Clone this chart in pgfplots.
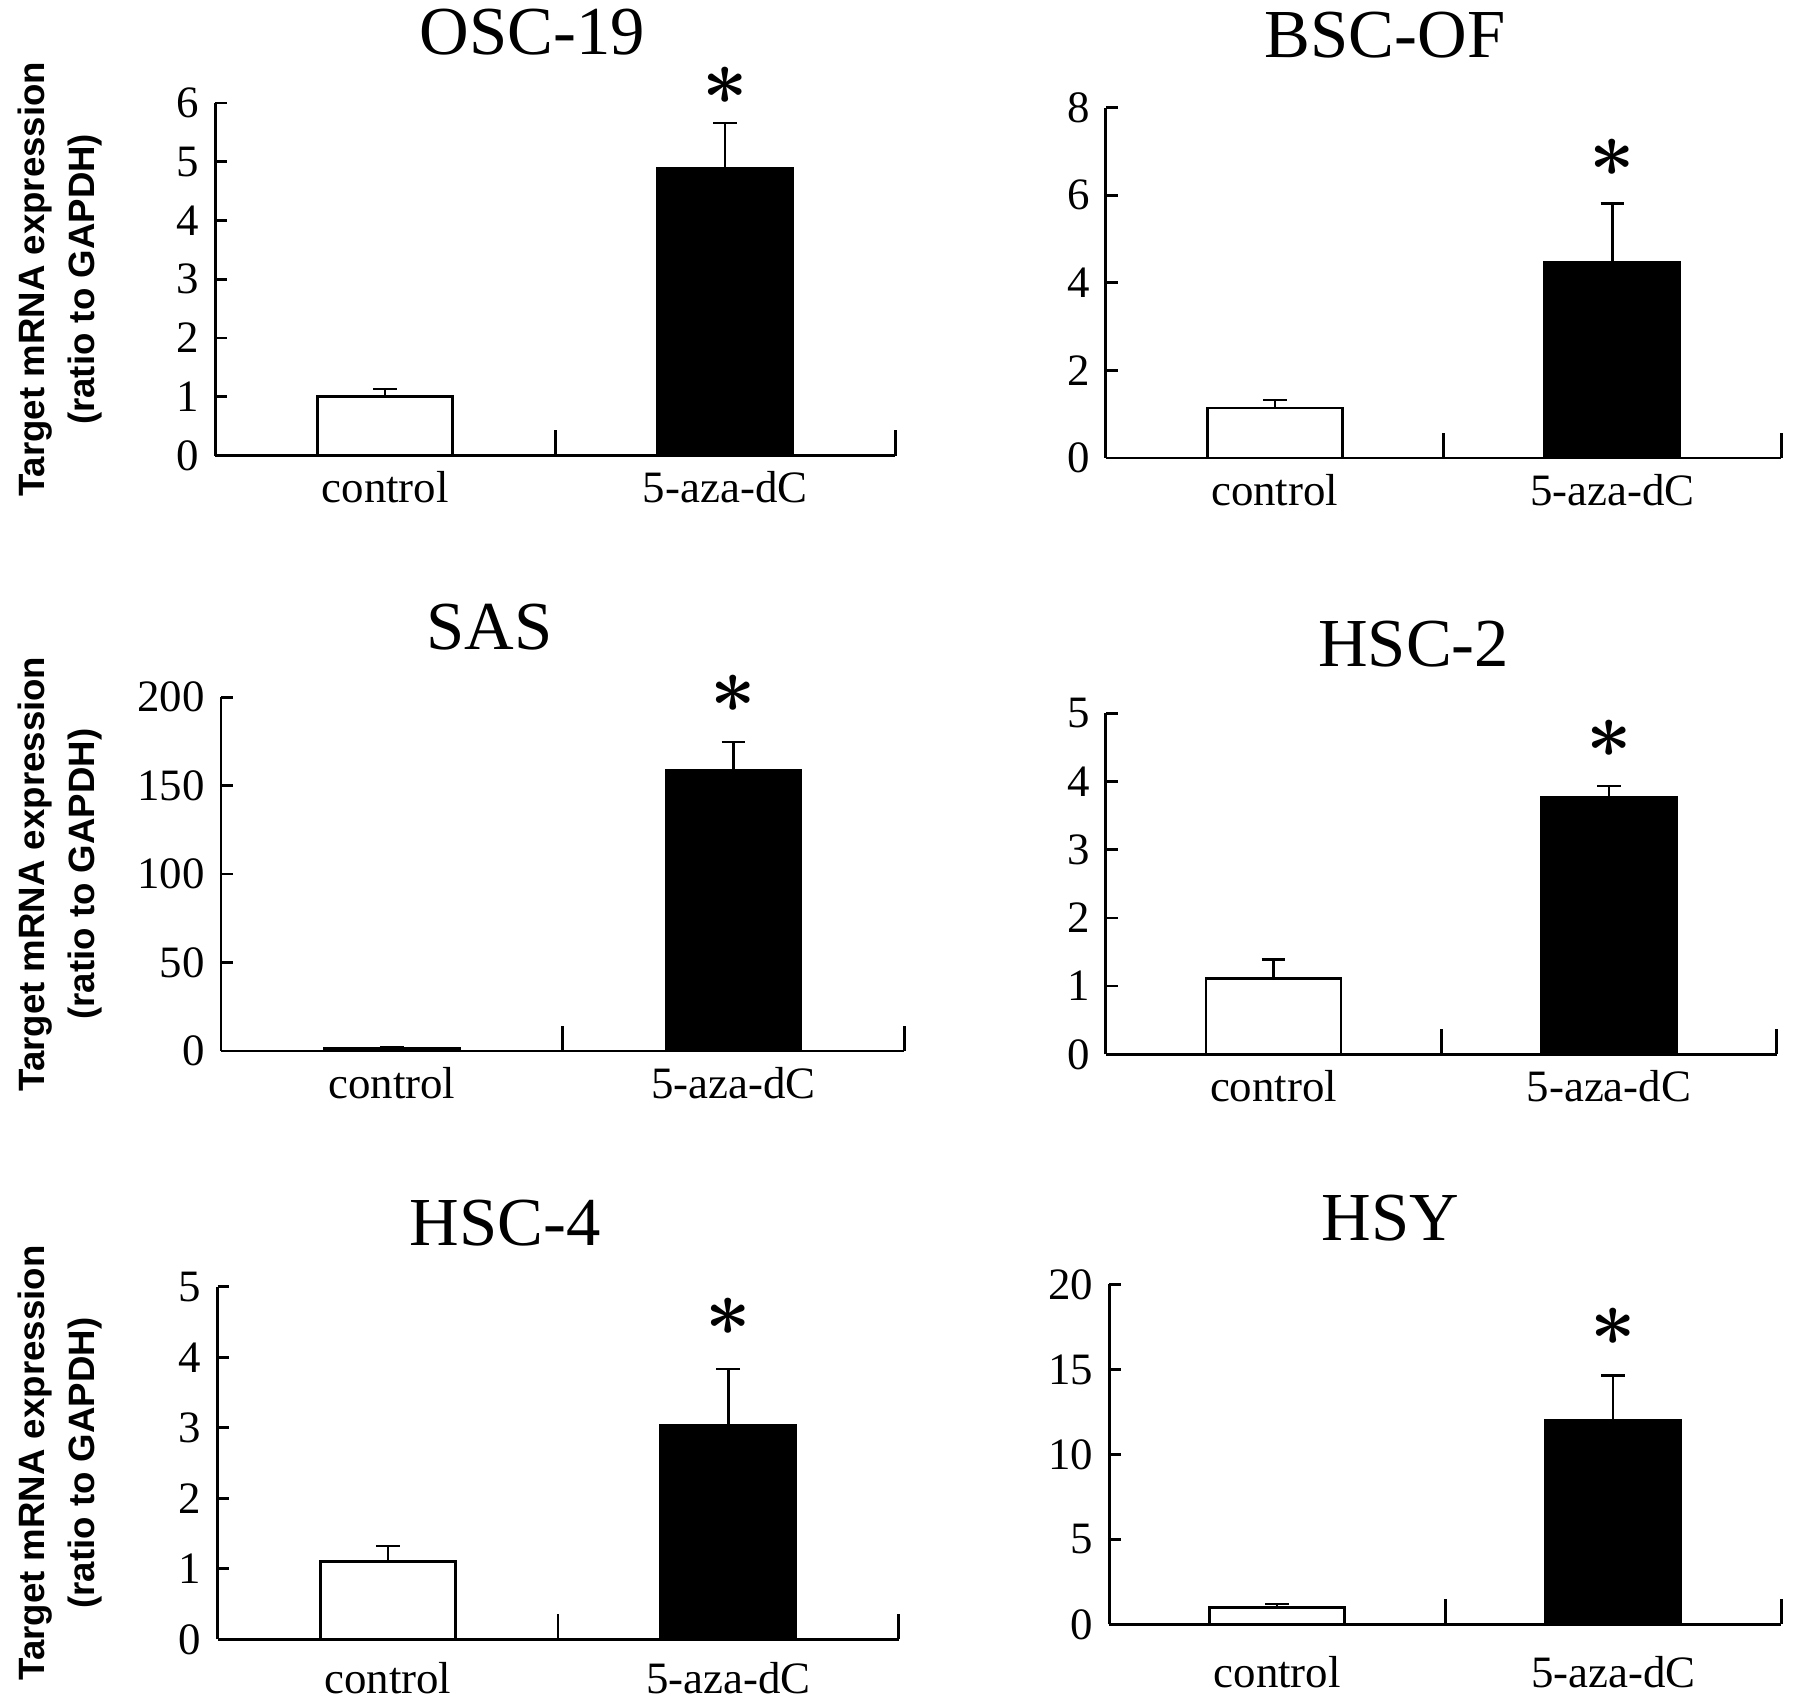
\documentclass[border=0pt]{standalone}
\usepackage{pgfplots}
\pgfplotsset{compat=1.18}
\usepackage{fontspec}
\setmainfont{Liberation Serif}
\newfontfamily\labelfont{Liberation Sans}

\pgfplotsset{
  panel/.style={
    scale only axis, anchor=south west,
    xmin=0, xmax=2, ymin=0, clip=false,
    axis x line=bottom, axis y line=left,
    axis line style={-, line width=0.6pt},
    xtick={0.5,1.5}, xticklabels={control,5-aza-dC},
    major x tick style={draw=none},
    minor xtick={1,2}, minor tick length=5.5pt,
    major tick length=2.6pt, tick align=inside,
    tick style={black, line width=0.6pt},
    ticklabel style={font=\fontsize{9.8}{10}\selectfont},
    /pgf/number format/assume math mode=true,
    title style={font=\fontsize{15}{15}\selectfont, at={(rel axis cs:0.5,1)}, anchor=center},
  },
  ylab/.style={
    ylabel={Target mRNA expression\\(ratio to GAPDH)},
    ylabel style={align=center, font=\labelfont\bfseries\fontsize{8}{11}\selectfont,
      at={(rel axis cs:#1,0.5)}, anchor=south, inner sep=0pt},
  },
  ctrl/.style={ybar, bar width=29.5pt, bar shift=0pt, fill=white, draw=black, line width=0.6pt, err},
  trt/.style={ybar, bar width=29.5pt, bar shift=0pt, fill=black, draw=black, line width=0.6pt, err},
  err/.style={error bars/.cd, y dir=plus, y explicit,
    error bar style={line width=0.5pt, black},
    error mark options={rotate=90, mark size=2.6pt, line width=0.5pt, black}},
}
\newcommand\sig{{\fontsize{16}{16}\selectfont\boldmath$\ast$}}

\begin{document}
\begin{tikzpicture}
\path[use as bounding box] (0pt,0pt) rectangle (392pt,-372.25pt);

% OSC-19
\begin{axis}[panel, ylab=-0.165, at={(47pt,-99.5pt)}, width=148.5pt, height=77pt,
  ymax=6, ytick={0,1,...,6}, title={OSC-19}, title style={xshift=-5pt, yshift=9.5pt}]
\addplot[ctrl] coordinates {(0.5,1.01) +- (0,0.12)};
\addplot[trt] coordinates {(1.5,4.89) +- (0,0.77)};
\node at (axis cs:1.5,6.29) {\sig};
\end{axis}

% BSC-OF
\begin{axis}[panel, at={(241.5pt,-100pt)}, width=147.5pt, height=76.5pt,
  ymax=8, ytick={0,2,...,8}, title={BSC-OF}, title style={xshift=-12.75pt, yshift=9.75pt}]
\addplot[ctrl] coordinates {(0.5,1.14) +- (0,0.18)};
\addplot[trt] coordinates {(1.5,4.46) +- (0,1.35)};
\node at (axis cs:1.5,6.85) {\sig};
\end{axis}

% SAS
\begin{axis}[panel, ylab=-0.172, at={(48.25pt,-229.5pt)}, width=149.25pt, height=77.25pt,
  ymax=200, ytick={0,50,...,200}, title={SAS}, title style={xshift=-16pt, yshift=9.25pt}]
\addplot[ctrl] coordinates {(0.5,1.2) +- (0,1.1)};
\addplot[trt] coordinates {(1.5,158.5) +- (0,16.2)};
\node at (axis cs:1.5,202) {\sig};
\end{axis}

% HSC-2
\begin{axis}[panel, at={(241.5pt,-230.25pt)}, width=146.5pt, height=74.5pt,
  ymax=5, ytick={0,1,...,5}, title={HSC-2}, title style={xshift=-6pt, yshift=9pt}]
\addplot[ctrl] coordinates {(0.5,1.11) +- (0,0.28)};
\addplot[trt] coordinates {(1.5,3.76) +- (0,0.17)};
\node at (axis cs:1.5,4.62) {\sig};
\end{axis}

% HSC-4
\begin{axis}[panel, ylab=-0.168, at={(47.5pt,-358pt)}, width=148.75pt, height=77pt,
  ymax=5, ytick={0,1,...,5}, title={HSC-4}, title style={xshift=-11.5pt, yshift=8pt},
  x tick label style={yshift=-1.5pt}]
\addplot[ctrl] coordinates {(0.5,1.10) +- (0,0.22)};
\addplot[trt] coordinates {(1.5,3.04) +- (0,0.79)};
\node at (axis cs:1.5,4.57) {\sig};
\end{axis}

% HSY
\begin{axis}[panel, at={(242.25pt,-354.75pt)}, width=146.75pt, height=74.25pt,
  ymax=20, ytick={0,5,...,20}, title={HSY}, title style={xshift=-12pt, yshift=8.5pt},
  x tick label style={yshift=-3.5pt}]
\addplot[ctrl] coordinates {(0.5,0.99) +- (0,0.23)};
\addplot[trt] coordinates {(1.5,12.0) +- (0,2.65)};
\node at (axis cs:1.5,17.5) {\sig};
\end{axis}
\end{tikzpicture}
\end{document}
